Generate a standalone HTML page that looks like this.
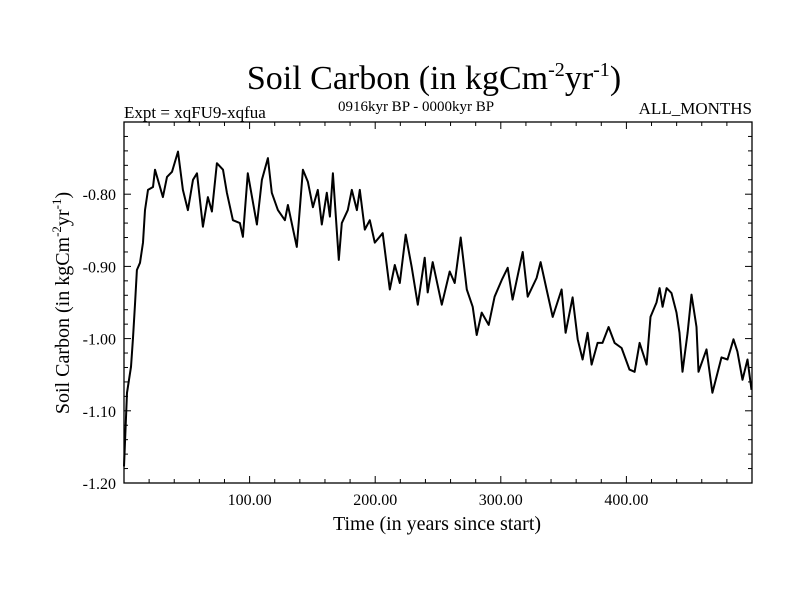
<!DOCTYPE html>
<html><head><meta charset="utf-8"><style>
body{margin:0;background:#fff}
svg text{font-family:"Liberation Serif",serif;fill:#000}
</style></head><body>
<svg id="chart" width="800" height="600">
<text x="434" y="89" font-size="34" text-anchor="middle">Soil Carbon (in kgCm<tspan dy="-13" font-size="20">-2</tspan><tspan dy="13">yr</tspan><tspan dy="-13" font-size="20">-1</tspan><tspan dy="13">)</tspan></text>
<text x="124" y="118" font-size="17">Expt = xqFU9-xqfua</text>
<text x="416" y="111" font-size="15" text-anchor="middle">0916kyr BP - 0000kyr BP</text>
<text x="752" y="114" font-size="17" text-anchor="end">ALL_MONTHS</text>
<text x="437" y="530" font-size="20" text-anchor="middle">Time (in years since start)</text>
<text transform="translate(69,303) rotate(-90)" font-size="20" text-anchor="middle">Soil Carbon (in kgCm<tspan dy="-8" font-size="13">-2</tspan><tspan dy="8">yr</tspan><tspan dy="-8" font-size="13">-1</tspan><tspan dy="8">)</tspan></text>
<g id="axes"></g>
<rect x="124" y="122" width="628" height="361" fill="none" stroke="#000" stroke-width="1.3"/>
</svg>
<script>
const years=[0,2.4,5.6,7.2,8.8,10.3,12.7,15.1,16.7,19.1,23.1,24.7,31.0,34.2,38.2,43.0,46.9,50.9,54.9,58.1,62.8,66.8,70.0,74.0,78.8,81.9,86.7,92.3,94.7,98.6,105.8,109.8,114.6,117.7,122.5,128.1,130.5,137.6,142.4,146.4,150.4,154.3,157.5,161.5,163.9,166.3,171.0,173.4,178.2,181.4,185.4,187.7,191.7,195.7,199.7,206.0,211.6,215.6,219.6,224.3,229.1,233.9,239.4,241.8,245.8,253.0,259.3,263.3,268.1,272.9,277.6,280.8,284.8,290.4,295.1,300.7,305.5,309.4,317.4,321.4,328.5,331.7,336.5,341.3,348.4,351.6,357.2,361.2,365.1,369.1,372.3,377.1,381.0,385.8,390.6,396.2,402.5,406.5,410.5,416.1,419.2,424.0,426.4,428.8,432.0,435.9,439.9,442.3,444.7,448.7,451.8,455.8,457.4,463.8,468.5,475.7,480.5,485.3,488.4,492.4,496.4,499.6];
const carbon=[-1.177,-1.075,-1.039,-0.999,-0.950,-0.905,-0.895,-0.867,-0.822,-0.794,-0.790,-0.766,-0.804,-0.776,-0.769,-0.741,-0.794,-0.822,-0.780,-0.771,-0.845,-0.804,-0.824,-0.757,-0.766,-0.798,-0.836,-0.840,-0.859,-0.771,-0.842,-0.780,-0.750,-0.798,-0.822,-0.836,-0.815,-0.873,-0.766,-0.783,-0.818,-0.794,-0.842,-0.798,-0.831,-0.771,-0.891,-0.840,-0.822,-0.794,-0.822,-0.794,-0.849,-0.836,-0.867,-0.854,-0.932,-0.898,-0.923,-0.856,-0.901,-0.953,-0.888,-0.936,-0.894,-0.953,-0.907,-0.923,-0.860,-0.932,-0.956,-0.995,-0.964,-0.981,-0.942,-0.919,-0.902,-0.946,-0.880,-0.942,-0.916,-0.894,-0.932,-0.970,-0.932,-0.992,-0.943,-1.001,-1.029,-0.992,-1.036,-1.006,-1.006,-0.984,-1.006,-1.013,-1.043,-1.046,-1.006,-1.036,-0.970,-0.950,-0.930,-0.956,-0.930,-0.937,-0.964,-0.992,-1.046,-0.992,-0.939,-0.984,-1.046,-1.015,-1.075,-1.026,-1.029,-1.001,-1.018,-1.057,-1.029,-1.071];
const xTicks=[100,200,300,400];
const xTickLabels=["100.00","200.00","300.00","400.00"];
const yTicks=[-0.8,-0.9,-1.0,-1.1,-1.2];
const yTickLabels=["-0.80","-0.90","-1.00","-1.10","-1.20"];
const X0=124,X1=752,Y0=122,Y1=483,XMIN=0,XMAX=500,YMIN=-1.2,YMAX=-0.7;
const sx=v=>X0+(v-XMIN)/(XMAX-XMIN)*(X1-X0);
const sy=v=>Y1-(v-YMIN)/(YMAX-YMIN)*(Y1-Y0);
const NS="http://www.w3.org/2000/svg";
const svg=document.getElementById('chart'), ax=document.getElementById('axes');
function mk(t,a,p){const e=document.createElementNS(NS,t);for(const k in a)e.setAttribute(k,a[k]);(p||ax).appendChild(e);return e;}
for(let v=20;v<500;v+=20){const major=v%100===0,L=major?7:4,x=sx(v);
 const t1=mk('line',{x1:x,x2:x,y1:Y1,y2:Y1-L,stroke:'#000','stroke-width':1});
 
 
 const t2=mk('line',{x1:x,x2:x,y1:Y0,y2:Y0+L,stroke:'#000','stroke-width':1});
 
 }
for(let i=0;i<=25;i++){const v=YMIN+i*0.02,major=i%5===0,L=major?7:4,y=sy(v);
 const t1=mk('line',{x1:X0,x2:X0+L,y1:y,y2:y,stroke:'#000','stroke-width':1});
 
 
 const t2=mk('line',{x1:X1,x2:X1-L,y1:y,y2:y,stroke:'#000','stroke-width':1});
 
 }
xTicks.forEach((v,i)=>{const t=mk('text',{x:sx(v),y:Y1+22,'font-size':16,'text-anchor':'middle'});t.textContent=xTickLabels[i];
 
 });
yTicks.forEach((v,i)=>{const t=mk('text',{x:X0-8,y:sy(v)+6,'font-size':16,'text-anchor':'end'});t.textContent=yTickLabels[i];
 
 });
const d=years.map((v,i)=>(i?'L':'M')+sx(v).toFixed(1)+','+sy(carbon[i]).toFixed(1)).join('');
const p=mk('path',{d:d,fill:'none',stroke:'#000','stroke-width':2,'stroke-linejoin':'round'});


</script>
</body></html>
